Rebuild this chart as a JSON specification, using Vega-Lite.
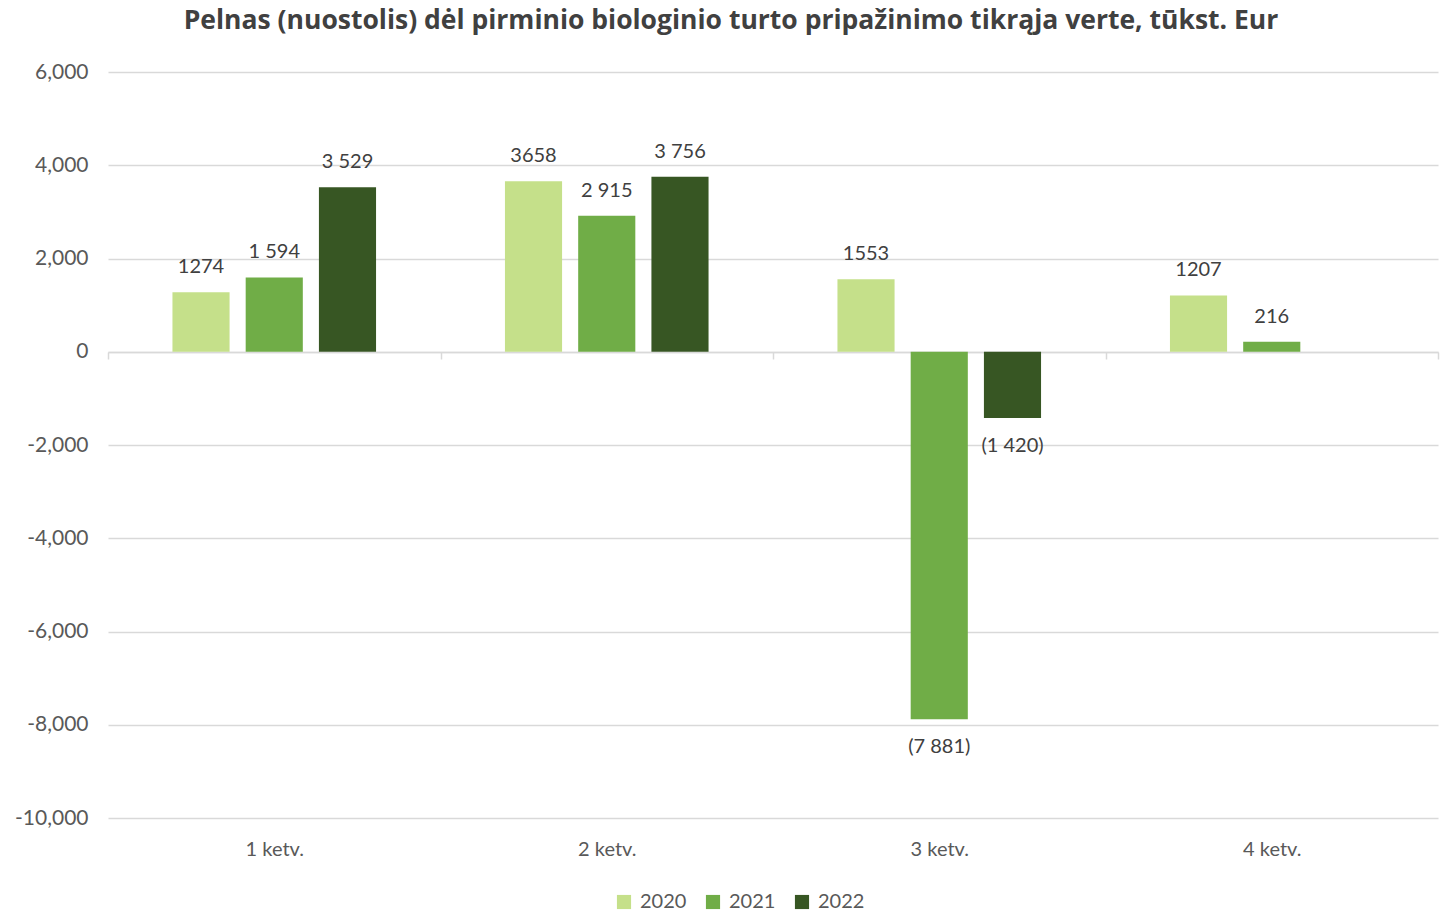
{
  "$schema": "https://vega.github.io/schema/vega-lite/v6.json",
  "width": 1330,
  "height": 746,
  "autosize": {"type": "none"},
  "padding": {"left": 108, "top": 72, "right": 4, "bottom": 95},
  "background": "white",
  "title": {
    "text": "Pelnas (nuostolis) dėl pirminio biologinio turto pripažinimo tikrąja verte, tūkst. Eur",
    "font": "Open Sans",
    "fontSize": 26.5,
    "fontWeight": "bold",
    "color": "#404040",
    "anchor": "middle",
    "frame": "group",
    "offset": 27,
    "dx": -42
  },
  "config": {
    "view": {"stroke": null},
    "font": "Lato"
  },
  "data": {
    "values": [
      {"q": "1 ketv.", "year": "2020", "value": 1274, "label": "1274"},
      {"q": "1 ketv.", "year": "2021", "value": 1594, "label": "1 594"},
      {"q": "1 ketv.", "year": "2022", "value": 3529, "label": "3 529"},
      {"q": "2 ketv.", "year": "2020", "value": 3658, "label": "3658"},
      {"q": "2 ketv.", "year": "2021", "value": 2915, "label": "2 915"},
      {"q": "2 ketv.", "year": "2022", "value": 3756, "label": "3 756"},
      {"q": "3 ketv.", "year": "2020", "value": 1553, "label": "1553"},
      {"q": "3 ketv.", "year": "2021", "value": -7881, "label": "(7 881)"},
      {"q": "3 ketv.", "year": "2022", "value": -1420, "label": "(1 420)"},
      {"q": "4 ketv.", "year": "2020", "value": 1207, "label": "1207"},
      {"q": "4 ketv.", "year": "2021", "value": 216, "label": "216"}
    ]
  },
  "encoding": {
    "x": {
      "field": "q",
      "type": "nominal",
      "sort": null,
      "scale": {"paddingInner": 0, "paddingOuter": 0},
      "axis": {
        "title": null,
        "orient": "bottom",
        "offset": -466,
        "domain": true,
        "domainColor": "#d9d9d9",
        "domainWidth": 1.5,
        "ticks": true,
        "tickBand": "extent",
        "tickColor": "#d9d9d9",
        "tickWidth": 1.5,
        "tickSize": 7,
        "labelPadding": 480,
        "labelAngle": 0,
        "labelFontSize": 20,
        "labelColor": "#595959",
        "labelFont": "Lato",
        "grid": false
      }
    },
    "xOffset": {
      "field": "year",
      "type": "nominal",
      "scale": {"paddingInner": 0.22, "paddingOuter": 0.88}
    },
    "y": {
      "field": "value",
      "type": "quantitative",
      "scale": {"domain": [-10000, 6000], "nice": false, "zero": true},
      "axis": {
        "title": null,
        "values": [-10000, -8000, -6000, -4000, -2000, 0, 2000, 4000, 6000],
        "labelExpr": "replace(format(datum.value, ','), '−', '-')",
        "domain": false,
        "ticks": false,
        "grid": true,
        "gridColor": "#d9d9d9",
        "gridWidth": 1.3,
        "labelPadding": 20,
        "labelFontSize": 21,
        "labelColor": "#595959",
        "labelFont": "Lato"
      }
    }
  },
  "layer": [
    {
      "mark": {"type": "bar"},
      "encoding": {
        "color": {
          "field": "year",
          "type": "nominal",
          "scale": {"domain": ["2020", "2021", "2022"], "range": ["#c5e08a", "#70ad47", "#375623"]},
          "legend": {
            "title": null,
            "orient": "none",
            "direction": "horizontal",
            "legendX": 506,
            "legendY": 820,
            "symbolType": "square",
            "symbolSize": 200,
            "symbolStrokeWidth": 0,
            "labelFontSize": 20,
            "labelColor": "#595959",
            "labelFont": "Lato",
            "columnPadding": 16,
            "labelOffset": 6
          }
        }
      }
    },
    {
      "transform": [{"filter": "datum.value >= 0"}],
      "mark": {"type": "text", "baseline": "middle", "dy": -25, "fontSize": 20, "color": "#404040", "font": "Lato"},
      "encoding": {"text": {"field": "label"}}
    },
    {
      "transform": [{"filter": "datum.value < 0"}],
      "mark": {"type": "text", "baseline": "middle", "dy": 28, "fontSize": 20, "color": "#404040", "font": "Lato"},
      "encoding": {"text": {"field": "label"}}
    }
  ]
}
